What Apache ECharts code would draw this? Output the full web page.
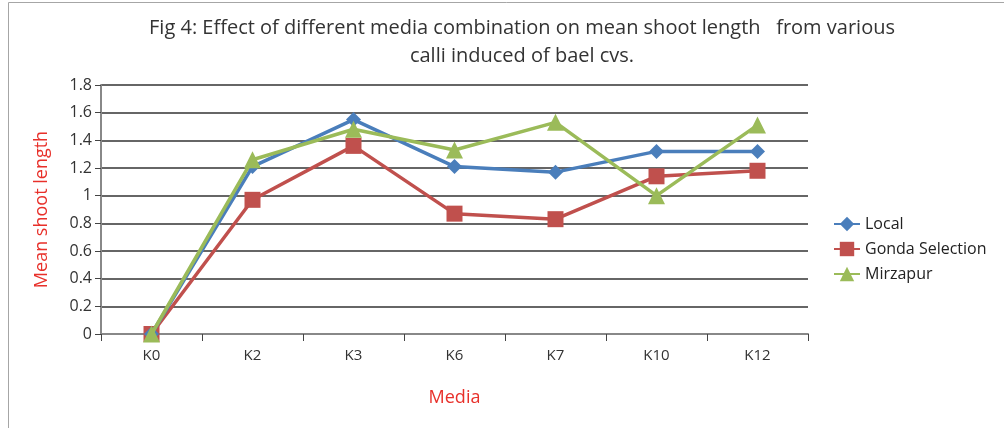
<!DOCTYPE html>
<html><head><meta charset="utf-8">
<script src="https://cdn.jsdelivr.net/npm/echarts@6/dist/echarts.min.js"></script>
<style>html,body{margin:0;padding:0;background:#fff}#c{width:1004px;height:428px}</style>
</head><body><div id="c"></div>
<script>
const categories = ['K0','K2','K3','K6','K7','K10','K12'];
const local = [0, 1.21, 1.55, 1.21, 1.17, 1.32, 1.32];
const gonda = [0, 0.97, 1.36, 0.87, 0.83, 1.14, 1.18];
const mirzapur = [0, 1.26, 1.48, 1.33, 1.53, 1.0, 1.51];
const yTicks = [0, 0.2, 0.4, 0.6, 0.8, 1, 1.2, 1.4, 1.6, 1.8];

const font = 'Open Sans';
const titleFont = "'Liberation Sans Narrow', 'Open Sans'";
const chart = echarts.init(document.getElementById('c'));
chart.setOption({
  animation: false,
  graphic: [{type:'rect', shape:{x:8.5,y:2.5,width:1100,height:500}, style:{fill:'none',stroke:'#a6a6a6',lineWidth:1}, silent:true}],
  title: {
    text: 'Fig 4: Effect of different media combination on mean shoot length   from various\ncalli induced of bael cvs.',
    left: 517, top: 9, textAlign: 'center',
    textStyle: {fontFamily: titleFont, fontSize: 20, fontWeight: 'normal', color: '#333', lineHeight: 28}
  },
  legend: {
    orient: 'vertical', left: 828, top: 211, itemGap: 9, itemWidth: 26, itemHeight: 18,
    textStyle: {fontFamily: font, fontSize: 16, color: '#222'},
    data: ['Local','Gonda Selection','Mirzapur']
  },
  grid: {left: 101, right: 196, top: 85, bottom: 94},
  xAxis: {
    type: 'category', data: categories, boundaryGap: true,
    name: 'Media', nameLocation: 'middle', nameGap: 55,
    nameTextStyle: {fontFamily: font, fontSize: 18, color: '#e8302a'},
    axisLine: {lineStyle: {color: '#888', width: 2}},
    axisTick: {show: true, length: 7, alignWithLabel: false, lineStyle: {color: '#444'}},
    axisLabel: {fontFamily: font, fontSize: 15, color: '#333', margin: 14}
  },
  yAxis: {
    type: 'value', min: 0, max: 1.8, interval: 0.2,
    name: 'Mean shoot length', nameLocation: 'middle', nameGap: 50,
    nameTextStyle: {fontFamily: font, fontSize: 18, color: '#e8302a'},
    axisLine: {show: true, lineStyle: {color: '#888', width: 2}},
    axisTick: {show: true, length: 6, lineStyle: {color: '#444'}},
    axisLabel: {fontFamily: font, fontSize: 16, color: '#333', margin: 9,
      formatter: v => { const t = yTicks.find(x => Math.abs(x - v) < 1e-6); return t === undefined ? '' : String(t); }},
    splitLine: {lineStyle: {color: '#333', width: 1.5}}
  },
  series: [
    {name: 'Local', type: 'line', data: local, symbol: 'diamond', symbolSize: 15,
      itemStyle: {color: '#4a7ebb'}, lineStyle: {width: 3.5, color: '#4a7ebb'}, z: 3},
    {name: 'Gonda Selection', type: 'line', data: gonda, symbol: 'rect', symbolSize: 16,
      itemStyle: {color: '#c0504d'}, lineStyle: {width: 3.5, color: '#c0504d'}, z: 2},
    {name: 'Mirzapur', type: 'line', data: mirzapur, symbol: 'triangle', symbolSize: 17,
      itemStyle: {color: '#9bbb59'}, lineStyle: {width: 3.5, color: '#9bbb59'}, z: 4}
  ]
});
</script></body></html>
